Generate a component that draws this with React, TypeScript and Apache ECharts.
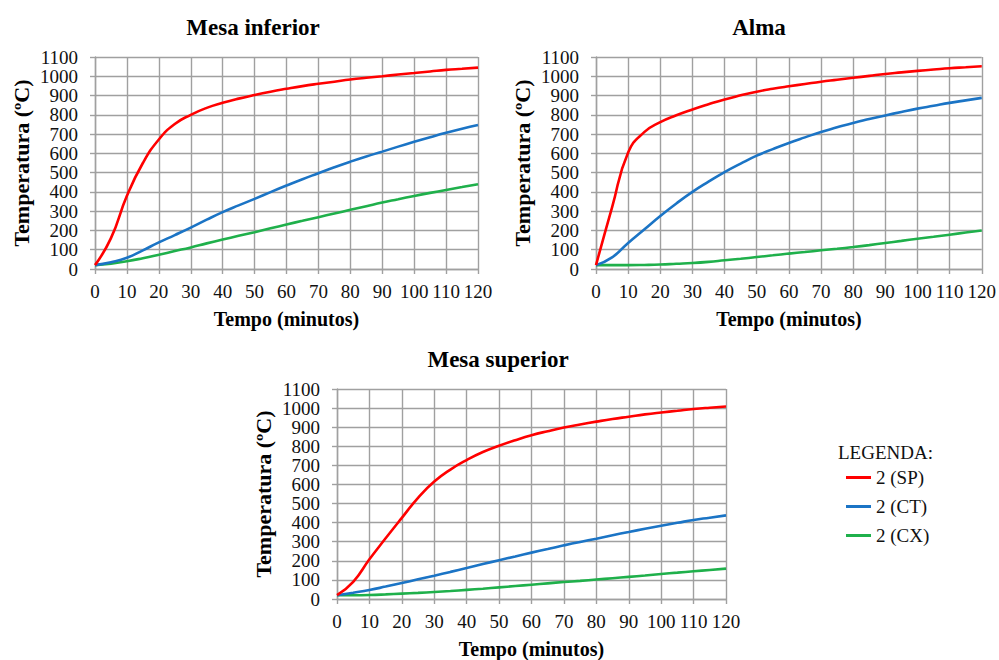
import React, { useEffect, useRef } from "react";
import * as echarts from "echarts";

const T = [0, 5, 10, 15, 20, 25, 30, 35, 40, 45, 50, 55, 60, 65, 70, 75, 80, 85, 90, 95, 100, 105, 110, 115, 120];

const titles = ["Mesa inferior", "Alma", "Mesa superior"];
const seriesNames = ["2 (SP)", "2 (CT)", "2 (CX)"];
const colors = ["#ff0000", "#1b74c5", "#1fb04b"];
const xTicks = [0, 10, 20, 30, 40, 50, 60, 70, 80, 90, 100, 110, 120];
const yTicks = [0, 100, 200, 300, 400, 500, 600, 700, 800, 900, 1000, 1100];

// Mesa inferior
const infSP = [20, 160, 380, 550, 672, 752, 800, 836, 862, 884, 903, 920, 935, 949, 961, 972, 983, 992, 1000, 1009, 1017, 1025, 1033, 1039, 1045];
const infCT = [20, 35, 58, 97, 138, 176, 215, 256, 295, 330, 364, 399, 433, 466, 497, 528, 557, 584, 609, 635, 660, 684, 707, 728, 747];
const infCX = [20, 28, 40, 56, 74, 93, 112, 133, 153, 172, 191, 211, 231, 250, 269, 288, 307, 326, 345, 362, 379, 395, 410, 425, 440];

// Alma
const almaSP = [20, 320, 605, 710, 762, 798, 828, 855, 880, 901, 920, 935, 948, 960, 972, 982, 992, 1002, 1012, 1020, 1028, 1035, 1042, 1047, 1052];
const almaCT = [20, 60, 135, 205, 275, 340, 400, 453, 503, 547, 588, 622, 654, 683, 711, 735, 758, 778, 797, 815, 832, 847, 862, 875, 888];
const almaCX = [20, 20, 20, 21, 23, 27, 31, 37, 45, 53, 62, 71, 80, 88, 97, 105, 114, 124, 135, 146, 157, 167, 178, 189, 200];

// Mesa superior
const supSP = [20, 90, 208, 318, 425, 530, 615, 678, 728, 770, 803, 832, 858, 879, 898, 914, 929, 943, 955, 967, 977, 986, 995, 1002, 1008];
const supCT = [20, 33, 47, 65, 84, 103, 122, 142, 162, 183, 203, 223, 243, 262, 281, 299, 316, 334, 351, 368, 384, 399, 414, 426, 438];
const supCX = [20, 20, 21, 24, 28, 32, 37, 42, 48, 54, 61, 68, 75, 82, 89, 95, 102, 109, 116, 123, 131, 138, 145, 152, 159];

const chartData = [
  [infSP, infCT, infCX],
  [almaSP, almaCT, almaCX],
  [supSP, supCT, supCX],
];

const FONT = "'Liberation Serif', 'Times New Roman', serif";
const GRID_COLOR = "#a0a0a0";

export default function App() {
  const ref = useRef<HTMLDivElement>(null);

  useEffect(() => {
    if (!ref.current) return;
    const chart = echarts.init(ref.current, undefined, { renderer: "svg" });

    const grids = [
      { left: 95, top: 57, width: 383, height: 212 },
      { left: 596, top: 57, width: 388, height: 212 },
      { left: 337, top: 389, width: 389, height: 210 },
    ];
    const titlePos = [
      { left: 248, top: 11 },
      { left: 754, top: 11 },
      { left: 493, top: 343 },
    ];

    const xAxes = grids.map((_, i) => ({
      type: "value",
      gridIndex: i,
      min: xTicks[0],
      max: xTicks[xTicks.length - 1],
      interval: xTicks[1] - xTicks[0],
      name: "Tempo (minutos)",
      nameLocation: "middle",
      nameGap: 40,
      nameTextStyle: { fontFamily: FONT, fontSize: 20, fontWeight: "bold", color: "#000" },
      axisLine: { show: true, lineStyle: { color: GRID_COLOR, width: 1.4 } },
      axisTick: { show: true, length: 5, lineStyle: { color: GRID_COLOR, width: 1.4 } },
      axisLabel: {
        fontFamily: FONT,
        fontSize: 19,
        color: "#111",
        margin: 13,
        showMaxLabel: true,
        formatter: (v: number) => String(v),
      },
      splitLine: { show: true, lineStyle: { color: GRID_COLOR, width: 1.4 } },
    }));

    const yAxes = grids.map((_, i) => ({
      type: "value",
      gridIndex: i,
      min: yTicks[0],
      max: yTicks[yTicks.length - 1],
      interval: yTicks[1] - yTicks[0],
      name: "Temperatura (ºC)",
      nameLocation: "middle",
      nameGap: 63,
      nameTextStyle: { fontFamily: FONT, fontSize: 22, fontWeight: "bold", color: "#000" },
      axisLine: { show: true, lineStyle: { color: GRID_COLOR, width: 1.4 } },
      axisTick: { show: true, length: 5, lineStyle: { color: GRID_COLOR, width: 1.4 } },
      axisLabel: {
        fontFamily: FONT,
        fontSize: 19,
        color: "#111",
        margin: 17,
        formatter: (v: number) => String(v),
      },
      splitLine: { show: true, lineStyle: { color: GRID_COLOR, width: 1.4 } },
    }));

    const series: any[] = [];
    chartData.forEach((group, gi) => {
      group.forEach((vals, si) => {
        series.push({
          type: "line",
          name: seriesNames[si],
          xAxisIndex: gi,
          yAxisIndex: gi,
          data: T.map((t, k) => [t, vals[k]]),
          showSymbol: false,
          smooth: 0.5,
          lineStyle: { color: colors[si], width: 2.6 },
          itemStyle: { color: colors[si] },
          z: 3 + (2 - si),
        });
      });
    });

    chart.setOption({
      animation: false,
      backgroundColor: "#ffffff",
      title: titles.map((t, i) => ({
        text: t,
        left: titlePos[i].left,
        top: titlePos[i].top,
        textAlign: "center",
        textStyle: { fontFamily: FONT, fontSize: 23, fontWeight: "bold", color: "#000" },
      })),
      grid: grids,
      xAxis: xAxes,
      yAxis: yAxes,
      legend: {
        data: seriesNames,
        orient: "vertical",
        left: 846,
        top: 468,
        padding: 0,
        itemWidth: 25,
        itemHeight: 3,
        itemGap: 10,
        icon: "rect",
        selectedMode: false,
        textStyle: { fontFamily: FONT, fontSize: 19, color: "#111", lineHeight: 19 },
      },
      graphic: [
        {
          type: "text",
          left: 838,
          top: 443,
          style: { text: "LEGENDA:", fontFamily: FONT, fontSize: 19, fill: "#111" },
        },
      ],
      series,
    });

    return () => chart.dispose();
  }, []);

  return <div ref={ref} style={{ position: "fixed", left: 0, top: 0, width: 999, height: 660 }} />;
}
